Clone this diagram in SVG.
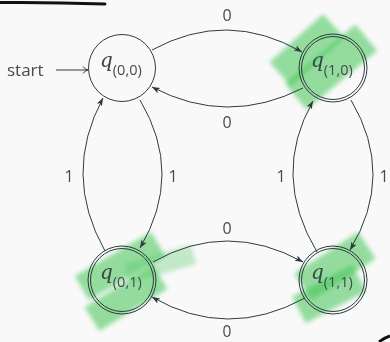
<svg xmlns="http://www.w3.org/2000/svg" width="390" height="342" viewBox="0 0 390 342">
<style>
.bg{fill:#f9f9f9}
.st{fill:none;stroke:#2f3a3d;stroke-width:1}
.e{fill:none;stroke:#2f3a3d;stroke-width:1;marker-end:url(#ah)}
.t{font-family:"Open Sans","Noto Sans",sans-serif;font-weight:400;fill:#434b4f}
.lbl{font-size:16px;text-anchor:middle}
.q{font-family:"DejaVu Serif","Liberation Serif",serif;font-style:italic;font-size:20px;fill:#3b4346}
.sub{font-size:14.5px}
.hl{fill:#3fc452;opacity:0.55}
.hl2{fill:#3fc452;opacity:0.3}
</style>
<defs>
<marker id="ah" markerUnits="userSpaceOnUse" markerWidth="10" markerHeight="8" refX="8" refY="3" orient="auto">
<path d="M0,0 L8,3 L0,6 L2,3 z" fill="#2f3a3d"/>
</marker>
<marker id="ao" markerUnits="userSpaceOnUse" markerWidth="10" markerHeight="10" refX="6" refY="4" orient="auto">
<path d="M1,0.5 Q3,3.5 6,4 Q3,4.5 1,7.5" fill="none" stroke="#2f3a3d" stroke-width="1"/>
</marker>
<filter id="soft" x="-20%" y="-20%" width="140%" height="140%"><feGaussianBlur stdDeviation="2"/></filter>
</defs>
<rect class="bg" x="0" y="0" width="390" height="342"/>
<g id="marks">
<path d="M0,2.5 Q50,2 105,4" fill="none" stroke="#111" stroke-width="3" stroke-linecap="round"/>
<path d="M379,342 Q384,338 390,336" fill="none" stroke="#111" stroke-width="3"/>
</g>
<g id="highlights" filter="url(#soft)">
<rect class="hl" x="-36" y="-16" width="72" height="32" transform="translate(307,50) rotate(-42)"/>
<rect class="hl" x="-46" y="-17" width="92" height="34" transform="translate(331,67) rotate(-40)"/>
<rect class="hl" x="-44" y="-14" width="88" height="28" transform="translate(120,266) rotate(-30)"/>
<rect class="hl" x="-40" y="-14" width="80" height="28" transform="translate(126,298) rotate(-32)"/>
<rect class="hl2" x="-35" y="-10" width="70" height="20" transform="translate(160,264) rotate(-16)"/>
<rect class="hl" x="-38" y="-16" width="76" height="32" transform="translate(335,266) rotate(-33)"/>
<rect class="hl" x="-34" y="-15" width="68" height="30" transform="translate(329,294) rotate(-28)"/>
</g>
<g id="connectors">
<path class="st" d="M56,70 L88,70" marker-end="url(#ao)"/>
<path class="e" d="M152,50 Q227,9 302,52"/>
<path class="e" d="M303,88 Q227,126.5 152,87"/>
<path class="e" d="M153,262 Q227,220 303,262"/>
<path class="e" d="M305,298 Q227,340.5 152,297"/>
<path class="e" d="M105,251 Q62,174.5 103,98"/>
<path class="e" d="M140,100 Q184,174 140,248"/>
<path class="e" d="M317,252 Q271,175 313,101"/>
<path class="e" d="M351,100 Q395.5,175 350,250"/>
</g>
<g id="edge-labels" class="t lbl">
<text x="227" y="21">0</text>
<text x="227" y="128">0</text>
<text x="227" y="234">0</text>
<text x="227" y="336.5" font-size="15.5">0</text>
<text x="69" y="182">1</text>
<text x="173" y="182">1</text>
<text x="281" y="182">1</text>
<text x="384" y="182">1</text>
</g>
<g id="start-label"><text class="t" x="7" y="76" font-size="17">start</text></g>
<g id="q00">
<circle class="st" cx="122" cy="68" r="33.5"/>
<text x="100" y="67"><tspan class="q">q</tspan><tspan class="t sub" dy="8">(0,0)</tspan></text>
</g>
<g id="q10">
<circle class="st" cx="333" cy="68" r="34"/>
<circle class="st" cx="333" cy="68" r="31.5"/>
<text x="311" y="67"><tspan class="q">q</tspan><tspan class="t sub" dy="8">(1,0)</tspan></text>
</g>
<g id="q01">
<circle class="st" cx="122" cy="280" r="34"/>
<circle class="st" cx="122" cy="280" r="31.5"/>
<text x="100" y="279"><tspan class="q">q</tspan><tspan class="t sub" dy="8">(0,1)</tspan></text>
</g>
<g id="q11">
<circle class="st" cx="333" cy="280" r="34"/>
<circle class="st" cx="333" cy="280" r="31.5"/>
<text x="311" y="279"><tspan class="q">q</tspan><tspan class="t sub" dy="8">(1,1)</tspan></text>
</g>
</svg>
